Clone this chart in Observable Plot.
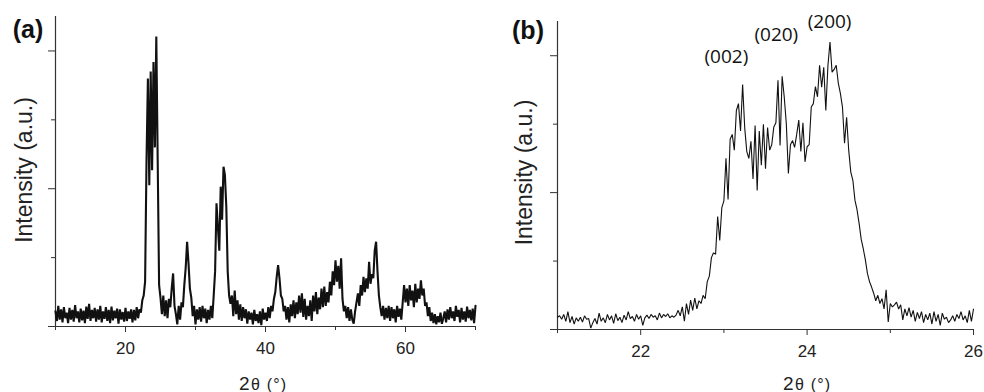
<!DOCTYPE html>
<html><head><meta charset="utf-8">
<script src="https://cdn.jsdelivr.net/npm/d3@7"></script>
<script src="https://cdn.jsdelivr.net/npm/@observablehq/plot@0.6"></script>
<style>
html,body{margin:0;padding:0;background:#fff;}
#wrap{position:relative;width:984px;height:392px;overflow:hidden;}
#a,#b{position:absolute;top:0;}
#a{left:0;} #b{left:490px;}
.unit-lab text{letter-spacing:1.2px;}
</style></head><body><div id="wrap"><div id="a"></div><div id="b"></div></div>
<script>
// Panel (a): 2θ from 10 to 70, step 0.2 (10 values per row = 2°)
const intensityA = [
0.22,0.08,0.30,0.10,0.25,0.06,0.28,0.12,0.20,0.05,
0.27,0.10,0.24,0.07,0.31,0.12,0.22,0.06,0.26,0.09,
0.23,0.05,0.29,0.11,0.33,0.08,0.24,0.12,0.27,0.07,
0.25,0.10,0.30,0.06,0.22,0.11,0.28,0.08,0.24,0.05,
0.29,0.09,0.23,0.12,0.26,0.04,0.25,0.10,0.21,0.07,
0.27,0.08,0.22,0.11,0.25,0.06,0.24,0.09,0.28,0.12,
0.25,0.20,0.38,0.45,0.65,2.40,3.60,2.05,3.70,2.27,
3.84,2.60,4.21,2.40,0.60,0.42,0.18,0.45,0.15,0.38,
0.12,0.40,0.28,0.55,0.77,0.30,0.18,0.03,0.30,0.10,
0.35,0.28,0.60,0.85,1.23,0.92,0.55,0.42,0.15,0.30,
0.03,0.25,0.10,0.28,0.07,0.30,0.12,0.26,0.05,0.24,
0.10,0.30,0.12,0.45,0.80,1.79,1.45,1.10,2.03,1.55,
2.32,2.20,1.74,0.80,0.45,0.33,0.45,0.15,0.52,0.18,
0.38,0.10,0.32,0.08,0.28,0.12,0.25,0.04,0.22,0.10,
0.20,0.03,0.24,0.08,0.18,0.05,0.22,0.02,0.26,0.10,
0.20,0.08,0.28,0.12,0.30,0.22,0.40,0.50,0.72,0.89,
0.70,0.45,0.40,0.22,0.30,0.10,0.28,0.06,0.32,0.15,
0.38,0.12,0.35,0.18,0.45,0.20,0.48,0.14,0.40,0.10,
0.30,0.15,0.38,0.08,0.45,0.22,0.50,0.18,0.42,0.25,
0.55,0.28,0.58,0.30,0.50,0.35,0.65,0.45,0.80,0.60,
0.96,0.65,0.88,0.55,0.99,0.40,0.22,0.30,0.12,0.28,
0.08,0.25,0.10,0.04,0.22,0.35,0.48,0.30,0.60,0.45,
0.72,0.50,0.70,0.55,0.94,0.62,0.76,0.70,1.10,1.23,
0.80,0.45,0.28,0.15,0.30,0.10,0.27,0.12,0.30,0.08,
0.28,0.12,0.25,0.06,0.30,0.14,0.26,0.10,0.35,0.60,
0.35,0.55,0.30,0.60,0.38,0.52,0.28,0.62,0.35,0.55,
0.40,0.67,0.45,0.55,0.30,0.35,0.15,0.28,0.08,0.20,
0.05,0.18,0.03,0.15,0.06,0.20,0.04,0.12,0.22,0.06,
0.25,0.10,0.28,0.12,0.22,0.08,0.30,0.14,0.24,0.06,
0.27,0.10,0.22,0.07,0.29,0.12,0.24,0.09,0.26,0.05,
0.30
];
const startA = 10, stepA = 0.2;

// Panel (b): 2θ from 21 to 26, step 0.025 (8 values per row = 0.2°)
const intensityB = [
0.18,0.20,0.15,0.22,0.12,0.26,0.10,0.19,
0.08,0.17,0.12,0.18,0.11,0.20,0.15,0.16,
0.02,0.10,0.16,0.08,0.24,0.12,0.17,0.10,
0.22,0.14,0.20,0.09,0.23,0.13,0.18,0.10,
0.21,0.14,0.26,0.16,0.19,0.12,0.22,0.15,
0.20,0.06,0.17,0.21,0.16,0.22,0.18,0.20,
0.14,0.24,0.17,0.22,0.19,0.23,0.17,0.20,
0.18,0.21,0.28,0.20,0.33,0.12,0.38,0.22,
0.43,0.28,0.46,0.30,0.42,0.38,0.50,0.45,
0.70,0.78,1.05,1.12,1.10,1.65,1.30,1.78,
1.88,2.50,1.90,2.78,2.85,2.62,3.20,3.30,
2.90,3.58,2.95,2.60,2.50,2.75,2.20,2.98,
2.03,2.90,2.40,3.00,2.35,2.95,2.62,2.70,
2.96,3.02,3.64,2.69,3.70,3.40,3.01,2.28,
2.70,2.76,2.66,2.85,3.06,2.60,3.02,2.45,
2.67,2.70,3.25,3.30,3.55,3.40,3.86,3.54,
3.83,3.20,3.85,4.20,3.76,3.80,3.86,3.60,
3.45,3.25,2.72,3.10,2.62,2.30,2.18,1.89,
1.75,1.55,1.32,1.18,1.02,0.82,0.70,0.62,
0.53,0.42,0.50,0.38,0.45,0.30,0.58,0.11,
0.38,0.33,0.36,0.40,0.30,0.36,0.14,0.30,
0.20,0.32,0.18,0.28,0.12,0.25,0.16,0.26,
0.10,0.22,0.14,0.24,0.08,0.26,0.12,0.22,
0.06,0.24,0.15,0.18,0.10,0.14,0.20,0.12,
0.22,0.16,0.26,0.14,0.20,0.10,0.28,0.12,
0.30
];
const startB = 21, stepB = 0.025;

const majorTicksA = [20, 40, 60], minorTicksA = [10, 30, 50, 70];
const majorTicksB = [22, 24, 26], minorTicksB = [21, 23, 25];
const yMajor = [0, 2, 4], yMinor = [1, 3];
const peakLabels = ["(002)", "(020)", "(200)"];
const peakPos = [23.03, 23.63, 24.27];
const peakLabelY = [3.89, 4.22, 4.41];

const dataA = intensityA.map((v, i) => ({t: +(startA + i * stepA).toFixed(3), v}));
const dataB = intensityB.map((v, i) => ({t: +(startB + i * stepB).toFixed(3), v}));
const peaks = peakLabels.map((label, i) => ({label, t: peakPos[i], v: peakLabelY[i]}));

const FONT = "'Liberation Sans', Arial, Helvetica, sans-serif";

function panel(o) {
  return Plot.plot({
    width: o.width, height: 392,
    marginLeft: o.ml, marginRight: o.mr, marginTop: o.mt, marginBottom: o.mb,
    style: {fontFamily: FONT, color: "#222", background: "transparent", overflow: "visible"},
    x: {domain: o.xDomain, label: null},
    y: {domain: [0, 4.5], label: null},
    marks: [
      Plot.axisX({ticks: o.major, tickSize: 6, tickPadding: 9.5, fontSize: 17, tickFormat: d => String(d), label: null, stroke: "#333"}),
      Plot.axisX({ticks: o.minor, tickSize: 4, tickFormat: () => "", label: null, stroke: "#333"}),
      Plot.axisY({ticks: yMajor, tickSize: 7, tickFormat: () => "", label: null, stroke: "#333"}),
      Plot.axisY({ticks: yMinor, tickSize: 4, tickFormat: () => "", label: null, stroke: "#333"}),
      Plot.ruleY([0], {stroke: "#333", strokeWidth: 1.2}),
      Plot.ruleX([o.xDomain[0]], {stroke: "#333", strokeWidth: 1.2}),
      Plot.line(o.data, {x: "t", y: "v", stroke: "#111", strokeWidth: o.sw, strokeLinejoin: "miter"}),
      ...(o.extra || []),
      Plot.text([o.tag], {text: d => d, frameAnchor: "top-left", textAnchor: "middle", lineAnchor: "bottom",
        dx: o.tagDx, dy: o.tagDy, fontSize: 25, fontWeight: "bold", fill: "#111"}),
      Plot.text(["Intensity (a.u.)"], {text: d => d, frameAnchor: "left", rotate: -90, textAnchor: "middle",
        lineAnchor: "middle", dx: o.ylabDx, dy: o.ylabDy, fontSize: 23, fill: "#222"}),
      Plot.text(["2"], {text: d => d, frameAnchor: "bottom", textAnchor: "end", lineAnchor: "bottom",
        dx: o.x2Dx, dy: o.xlabDy, fontSize: 19, fill: "#222"}),
      Plot.text(["θ (°)"], {text: d => d, frameAnchor: "bottom", textAnchor: "start", lineAnchor: "bottom",
        dx: o.x2Dx + 1.5, dy: o.xlabDy, fontSize: 16, fill: "#222", className: "unit-lab"})
    ]
  });
}

document.getElementById("a").append(panel({
  data: dataA, width: 490, ml: 55, mr: 15, mt: 16, mb: 66, xDomain: [10, 70],
  major: majorTicksA, minor: minorTicksA, sw: 2.1,
  tag: "(a)", tagDx: -27.5, tagDy: 21, ylabDx: -31, ylabDy: -1.5, x2Dx: -16, xlabDy: 63
}));

document.getElementById("b").append(panel({
  data: dataB, width: 494, ml: 67, mr: 11, mt: 21, mb: 63, xDomain: [21, 26],
  major: majorTicksB, minor: minorTicksB, sw: 1.1,
  tag: "(b)", tagDx: -29.5, tagDy: 17, ylabDx: -33, ylabDy: -3, x2Dx: 28, xlabDy: 60,
  extra: [Plot.text(peaks, {x: "t", y: "v", text: "label", textAnchor: "middle", lineAnchor: "bottom",
    fontSize: 19, fontFamily: "'Open Sans', sans-serif", fill: "#111"})]
}));
</script>
</body></html>
